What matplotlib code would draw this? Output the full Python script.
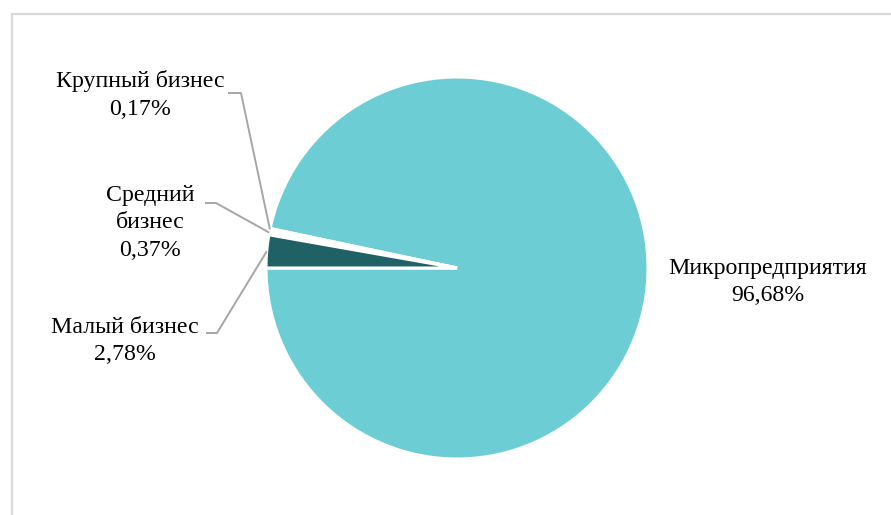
import matplotlib
matplotlib.use("Agg")
import matplotlib.pyplot as plt
import numpy as np
from matplotlib.patches import Rectangle

categories = ["Микропредприятия", "Крупный бизнес", "Средний бизнес", "Малый бизнес"]
values = [96.68, 0.17, 0.37, 2.78]
label_texts = ["Микропредприятия\n96,68%", "Крупный бизнес\n0,17%", "Средний\nбизнес\n0,37%", "Малый бизнес\n2,78%"]
colors = ["#6DCDD5", "#FFFFFF", "#FFFFFF", "#1F6165"]

W, H = 891, 515
fig = plt.figure(figsize=(W / 100, H / 100), dpi=100)
ax = fig.add_axes([0, 0, 1, 1])
ax.set_xlim(0, W)
ax.set_ylim(0, H)
ax.set_aspect("equal")
ax.axis("off")

# outer frame (left and top visible)
ax.add_patch(Rectangle((12, -10), W + 20, H - 14 + 10, fill=False,
                       edgecolor="#D9D9D9", linewidth=1.6))

cx, cy, r = 457, H - 268, 191
wedges, _ = ax.pie(values, colors=colors, startangle=180, counterclock=True,
                   center=(cx, cy), radius=r, frame=True,
                   wedgeprops=dict(edgecolor="white", linewidth=2.2))
ax.set_xlim(0, W)
ax.set_ylim(0, H)
ax.axis("off")

font = dict(family="Liberation Serif", fontsize=17.2, color="#000000", linespacing=1.38)

# label positions (screen px) and leader line elbow
layout = {
    1: dict(text=(140, 95), elbow=[(228, 93), (241, 93)]),
    2: dict(text=(150, 223), elbow=[(205, 203), (216, 203)]),
    3: dict(text=(125, 341), elbow=[(206, 333), (217, 333)]),
}

ax.text(768, H - 282, label_texts[0], ha="center", va="center", **font)
for i, spec in layout.items():
    tx, ty = spec["text"]
    ax.text(tx, H - ty, label_texts[i], ha="center", va="center", **font)
    w = wedges[i]
    mid = np.deg2rad((w.theta1 + w.theta2) / 2)
    px = cx + r * np.cos(mid)
    py = cy + r * np.sin(mid)
    (x0, y0), (x1, y1) = spec["elbow"]
    ax.plot([x0, x1, px], [H - y0, H - y1, py], color="#A6A6A6", linewidth=1.4,
            solid_capstyle="butt")

fig.savefig("out.png", dpi=100, facecolor="white")
